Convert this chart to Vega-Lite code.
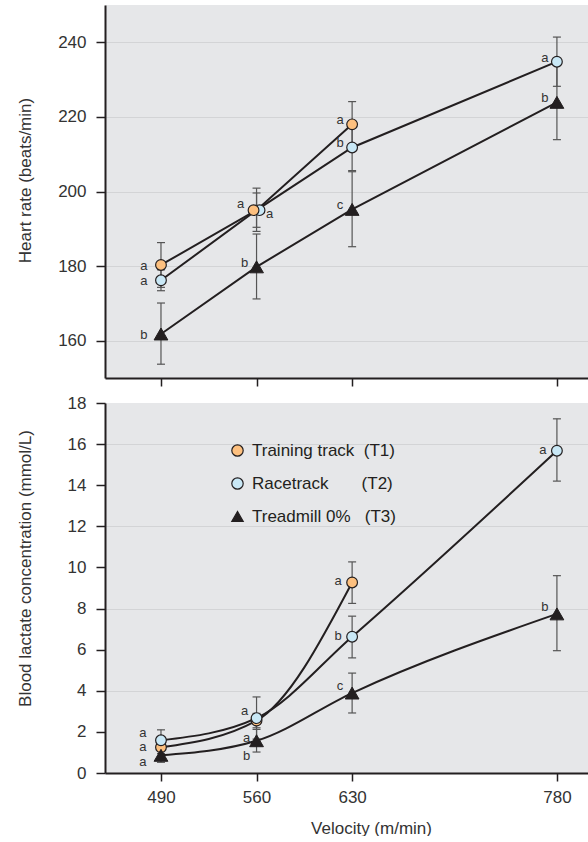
{
  "$schema": "https://vega.github.io/schema/vega-lite/v6.json",
  "background": "white",
  "padding": {"left": 16, "top": 5, "right": 0, "bottom": 0},
  "config": {
    "font": "Liberation Sans",
    "view": {"fill": "#e6e7e9", "stroke": null},
    "axis": {
      "domainColor": "#231f20", "domainWidth": 2,
      "tickColor": "#231f20", "tickWidth": 1.5,
      "labelFont": "Liberation Sans", "labelFontSize": 17, "labelColor": "#333333",
      "titleFont": "Liberation Sans", "titleFontSize": 17, "titleFontWeight": "normal", "titleColor": "#333333",
      "gridColor": "#d3d4d6", "gridWidth": 1
    },
    "axisY": {"tickSize": 9, "labelPadding": 10},
    "axisX": {"tickSize": 8, "labelPadding": 8, "grid": false}
  },
  "datasets": {
    "hr": [
      {"series": "T1", "velocity": 490, "value": 180.3, "lo": 174.3, "hi": 186.3, "label": "a"},
      {"series": "T1", "velocity": 560, "value": 195.0, "lo": 189.3, "hi": 200.9, "label": "a"},
      {"series": "T1", "velocity": 630, "value": 218.0, "lo": 211.9, "hi": 224.1, "label": "a"},
      {"series": "T2", "velocity": 490, "value": 176.2, "lo": 173.4, "hi": 179.0, "label": "a"},
      {"series": "T2", "velocity": 560, "value": 195.0, "lo": 190.4, "hi": 199.6, "label": "a"},
      {"series": "T2", "velocity": 630, "value": 211.8, "lo": 205.6, "hi": 218.0, "label": "b"},
      {"series": "T2", "velocity": 780, "value": 234.8, "lo": 228.2, "hi": 241.4, "label": "a"},
      {"series": "T3", "velocity": 490, "value": 161.8, "lo": 153.7, "hi": 170.1, "label": "b"},
      {"series": "T3", "velocity": 560, "value": 179.8, "lo": 171.2, "hi": 188.6, "label": "b"},
      {"series": "T3", "velocity": 630, "value": 195.2, "lo": 185.2, "hi": 205.3, "label": "c"},
      {"series": "T3", "velocity": 780, "value": 223.9, "lo": 213.9, "hi": 233.9, "label": "b"}
    ],
    "la": [
      {"series": "T1", "velocity": 490, "value": 1.25, "lo": 0.95, "hi": 1.55, "label": "a"},
      {"series": "T1", "velocity": 560, "value": 2.55, "lo": 2.2, "hi": 2.9, "label": "a"},
      {"series": "T1", "velocity": 630, "value": 9.27, "lo": 8.25, "hi": 10.27, "label": "a"},
      {"series": "T2", "velocity": 490, "value": 1.59, "lo": 1.08, "hi": 2.1, "label": "a"},
      {"series": "T2", "velocity": 560, "value": 2.67, "lo": 1.65, "hi": 3.7, "label": "a"},
      {"series": "T2", "velocity": 630, "value": 6.63, "lo": 5.6, "hi": 7.63, "label": "b"},
      {"series": "T2", "velocity": 780, "value": 15.68, "lo": 14.2, "hi": 17.23, "label": "a"},
      {"series": "T3", "velocity": 490, "value": 0.86, "lo": 0.52, "hi": 1.2, "label": "a"},
      {"series": "T3", "velocity": 560, "value": 1.57, "lo": 1.02, "hi": 2.12, "label": "b"},
      {"series": "T3", "velocity": 630, "value": 3.89, "lo": 2.92, "hi": 4.86, "label": "c"},
      {"series": "T3", "velocity": 780, "value": 7.74, "lo": 5.95, "hi": 9.6, "label": "b"}
    ]
  },
  "spacing": 25,
  "bounds": "flush",
  "resolve": {
    "scale": {"color": "independent", "shape": "independent"},
    "legend": {"color": "independent", "shape": "independent"}
  },
  "vconcat": [
    {
      "width": 484,
      "height": 373,
      "data": {"name": "hr"},
      "encoding": {
        "x": {"field": "velocity", "type": "quantitative", "scale": {"domain": [449, 803.5], "nice": false, "zero": false},
              "axis": {"values": [490, 560, 630, 780], "labels": false, "title": null, "grid": false}},
        "y": {"field": "value", "type": "quantitative", "scale": {"domain": [150, 250], "nice": false, "zero": false},
              "axis": {"values": [160, 180, 200, 220, 240], "title": "Heart rate (beats/min)", "titleX": -71, "titleY": 175, "titleBaseline": "bottom", "grid": true}}
      },
      "layer": [
        {"mark": {"type": "rule", "color": "#555555", "strokeWidth": 1.2},
         "encoding": {"y": {"field": "lo", "type": "quantitative"}, "y2": {"field": "hi"}}},
        {"mark": {"type": "tick", "orient": "horizontal", "size": 8, "thickness": 1.2, "color": "#555555", "opacity": 1},
         "encoding": {"y": {"field": "lo", "type": "quantitative"}}},
        {"mark": {"type": "tick", "orient": "horizontal", "size": 8, "thickness": 1.2, "color": "#555555", "opacity": 1},
         "encoding": {"y": {"field": "hi", "type": "quantitative"}}},
        {"mark": {"type": "line", "color": "#231f20", "strokeWidth": 2},
         "encoding": {"detail": {"field": "series"}}},
        {"transform": [{"filter": "datum.series != 'T3' && datum.velocity != 560"}],
         "mark": {"type": "point", "filled": true, "stroke": "#231f20", "strokeWidth": 1.2, "opacity": 1, "size": 115},
         "encoding": {
           "color": {"field": "series", "type": "nominal", "scale": {"domain": ["T1", "T2", "T3"], "range": ["#fdc07f", "#c9e8f6", "#231f20"]}, "legend": null},
           "shape": {"field": "series", "type": "nominal", "scale": {"domain": ["T1", "T2", "T3"], "range": ["circle", "circle", "triangle-up"]}, "legend": null}}},
        {"transform": [{"filter": "datum.series == 'T2' && datum.velocity == 560"}],
         "mark": {"type": "point", "filled": true, "stroke": "#231f20", "strokeWidth": 1.2, "opacity": 1, "size": 115, "xOffset": 3},
         "encoding": {
           "color": {"field": "series", "type": "nominal", "scale": {"domain": ["T1", "T2", "T3"], "range": ["#fdc07f", "#c9e8f6", "#231f20"]}, "legend": null},
           "shape": {"field": "series", "type": "nominal", "scale": {"domain": ["T1", "T2", "T3"], "range": ["circle", "circle", "triangle-up"]}, "legend": null}}},
        {"transform": [{"filter": "datum.series == 'T1' && datum.velocity == 560"}],
         "mark": {"type": "point", "filled": true, "stroke": "#231f20", "strokeWidth": 1.2, "opacity": 1, "size": 115, "xOffset": -3},
         "encoding": {
           "color": {"field": "series", "type": "nominal", "scale": {"domain": ["T1", "T2", "T3"], "range": ["#fdc07f", "#c9e8f6", "#231f20"]}, "legend": null},
           "shape": {"field": "series", "type": "nominal", "scale": {"domain": ["T1", "T2", "T3"], "range": ["circle", "circle", "triangle-up"]}, "legend": null}}},
        {"transform": [{"filter": "datum.series == 'T3'"}],
         "mark": {"type": "point", "filled": true, "stroke": "#231f20", "strokeWidth": 1, "opacity": 1, "size": 190},
         "encoding": {
           "color": {"field": "series", "type": "nominal", "scale": {"domain": ["T1", "T2", "T3"], "range": ["#fdc07f", "#c9e8f6", "#231f20"]}, "legend": null},
           "shape": {"field": "series", "type": "nominal", "scale": {"domain": ["T1", "T2", "T3"], "range": ["circle", "circle", "triangle-up"]}, "legend": null}}},
        {"transform": [{"filter": "datum.velocity == 490"}],
         "mark": {"type": "text", "fontSize": 13, "color": "#333333", "align": "center", "baseline": "middle", "dx": -17, "dy": 1},
         "encoding": {"text": {"field": "label"}}},
        {"transform": [{"filter": "datum.velocity == 560 && datum.series == 'T2'"}],
         "mark": {"type": "text", "fontSize": 13, "color": "#333333", "align": "center", "baseline": "middle", "dx": 13, "dy": 4},
         "encoding": {"text": {"field": "label"}}},
        {"transform": [{"filter": "datum.velocity == 560 && datum.series == 'T1'"}],
         "mark": {"type": "text", "fontSize": 13, "color": "#333333", "align": "center", "baseline": "middle", "dx": -16, "dy": -6},
         "encoding": {"text": {"field": "label"}}},
        {"transform": [{"filter": "datum.velocity != 490 && !(datum.velocity == 560 && datum.series != 'T3')"}],
         "mark": {"type": "text", "fontSize": 13, "color": "#333333", "align": "center", "baseline": "middle", "dx": -12, "dy": -4},
         "encoding": {"text": {"field": "label"}}}
      ]
    },
    {
      "width": 484,
      "height": 370,
      "data": {"name": "la"},
      "encoding": {
        "x": {"field": "velocity", "type": "quantitative", "scale": {"domain": [449, 803.5], "nice": false, "zero": false},
              "axis": {"values": [490, 560, 630, 780], "title": "Velocity (m/min)", "titleX": 266, "titleY": 47, "titleBaseline": "top", "titleAlign": "center", "grid": false}},
        "y": {"field": "value", "type": "quantitative", "scale": {"domain": [0, 18], "nice": false, "zero": false},
              "axis": {"values": [0, 2, 4, 6, 8, 10, 12, 14, 16, 18], "title": "Blood lactate concentration (mmol/L)", "titleX": -71, "titleY": 165, "titleBaseline": "bottom", "grid": true,
                       "gridOpacity": {"condition": {"test": "datum.value % 4 === 0 && datum.value > 0 && datum.value < 18", "value": 1}, "value": 0}}}
      },
      "layer": [
        {"mark": {"type": "rule", "color": "#555555", "strokeWidth": 1.2},
         "encoding": {"y": {"field": "lo", "type": "quantitative"}, "y2": {"field": "hi"}}},
        {"mark": {"type": "tick", "orient": "horizontal", "size": 8, "thickness": 1.2, "color": "#555555", "opacity": 1},
         "encoding": {"y": {"field": "lo", "type": "quantitative"}}},
        {"mark": {"type": "tick", "orient": "horizontal", "size": 8, "thickness": 1.2, "color": "#555555", "opacity": 1},
         "encoding": {"y": {"field": "hi", "type": "quantitative"}}},
        {"mark": {"type": "line", "color": "#231f20", "strokeWidth": 2, "interpolate": "monotone"},
         "encoding": {"detail": {"field": "series"}}},
        {"transform": [{"filter": "datum.series != 'T3'"}],
         "mark": {"type": "point", "filled": true, "stroke": "#231f20", "strokeWidth": 1.2, "opacity": 1, "size": 115},
         "encoding": {
           "color": {"field": "series", "type": "nominal", "scale": {"domain": ["T1", "T2", "T3"], "range": ["#fdc07f", "#c9e8f6", "#231f20"]},
                     "legend": {"title": null, "orient": "none", "legendX": 124, "legendY": 39, "padding": 0, "labelFontSize": 17, "labelFont": "Liberation Sans", "labelColor": "#231f20", "symbolSize": 130, "symbolStrokeColor": "#231f20", "symbolStrokeWidth": 1.2, "symbolOpacity": 1, "rowPadding": 15, "labelOffset": 6, "labelLimit": 400,
                                "labelExpr": "datum.value == 'T1' ? 'Training track\u00a0\u00a0(T1)' : datum.value == 'T2' ? 'Racetrack\u00a0\u00a0\u00a0\u00a0\u00a0\u00a0\u00a0(T2)' : 'Treadmill 0%\u00a0\u00a0\u00a0(T3)'"}},
           "shape": {"field": "series", "type": "nominal", "scale": {"domain": ["T1", "T2", "T3"], "range": ["circle", "circle", "triangle-up"]},
                     "legend": {"title": null, "orient": "none", "legendX": 124, "legendY": 39, "padding": 0, "labelFontSize": 17, "labelFont": "Liberation Sans", "labelColor": "#231f20", "symbolSize": 130, "symbolStrokeColor": "#231f20", "symbolStrokeWidth": 1.2, "symbolOpacity": 1, "rowPadding": 15, "labelOffset": 6, "labelLimit": 400,
                                "labelExpr": "datum.value == 'T1' ? 'Training track\u00a0\u00a0(T1)' : datum.value == 'T2' ? 'Racetrack\u00a0\u00a0\u00a0\u00a0\u00a0\u00a0\u00a0(T2)' : 'Treadmill 0%\u00a0\u00a0\u00a0(T3)'"}}}},
        {"transform": [{"filter": "datum.series == 'T3'"}],
         "mark": {"type": "point", "filled": true, "stroke": "#231f20", "strokeWidth": 1, "opacity": 1, "size": 190},
         "encoding": {
           "color": {"field": "series", "type": "nominal", "scale": {"domain": ["T1", "T2", "T3"], "range": ["#fdc07f", "#c9e8f6", "#231f20"]}},
           "shape": {"field": "series", "type": "nominal", "scale": {"domain": ["T1", "T2", "T3"], "range": ["circle", "circle", "triangle-up"]}}}},
        {"transform": [{"filter": "datum.velocity == 490 && datum.series == 'T2'"}],
         "mark": {"type": "text", "fontSize": 13, "color": "#333333", "align": "center", "baseline": "middle", "dx": -18, "dy": -7},
         "encoding": {"text": {"field": "label"}}},
        {"transform": [{"filter": "datum.velocity == 490 && datum.series == 'T1'"}],
         "mark": {"type": "text", "fontSize": 13, "color": "#333333", "align": "center", "baseline": "middle", "dx": -18, "dy": 0},
         "encoding": {"text": {"field": "label"}}},
        {"transform": [{"filter": "datum.velocity == 490 && datum.series == 'T3'"}],
         "mark": {"type": "text", "fontSize": 13, "color": "#333333", "align": "center", "baseline": "middle", "dx": -18, "dy": 7},
         "encoding": {"text": {"field": "label"}}},
        {"transform": [{"filter": "datum.velocity == 560 && datum.series == 'T1'"}],
         "mark": {"type": "text", "fontSize": 13, "color": "#333333", "align": "center", "baseline": "middle", "dx": -10, "dy": 17},
         "encoding": {"text": {"field": "label"}}},
        {"transform": [{"filter": "datum.velocity == 560 && datum.series == 'T3'"}],
         "mark": {"type": "text", "fontSize": 13, "color": "#333333", "align": "center", "baseline": "middle", "dx": -10, "dy": 15},
         "encoding": {"text": {"field": "label"}}},
        {"transform": [{"filter": "(datum.velocity == 630 && datum.series != 'T3') || (datum.velocity == 780 && datum.series == 'T2')"}],
         "mark": {"type": "text", "fontSize": 13, "color": "#333333", "align": "center", "baseline": "middle", "dx": -14, "dy": -1},
         "encoding": {"text": {"field": "label"}}},
        {"transform": [{"filter": "(datum.velocity == 560 && datum.series == 'T2') || (datum.velocity >= 630 && datum.series == 'T3')"}],
         "mark": {"type": "text", "fontSize": 13, "color": "#333333", "align": "center", "baseline": "middle", "dx": -12, "dy": -7},
         "encoding": {"text": {"field": "label"}}}
      ]
    }
  ]
}
